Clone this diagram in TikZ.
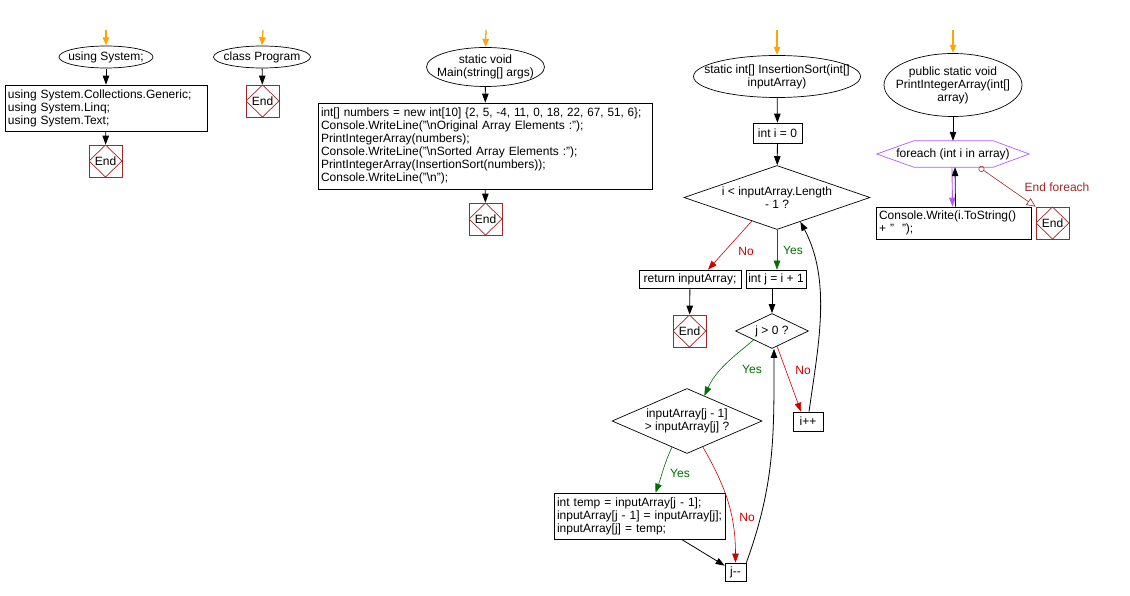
\documentclass[tikz,border=0pt]{standalone}
\usepackage{graphicx}
\usepackage{fontspec}
\setmainfont{Liberation Sans}
\usetikzlibrary{shapes.geometric,arrows.meta,calc}
\definecolor{orng}{RGB}{255,165,0}
\definecolor{endred}{RGB}{160,40,40}
\definecolor{nored}{RGB}{204,0,0}
\definecolor{yesgreen}{RGB}{0,110,0}
\definecolor{purp}{RGB}{180,90,255}
\begin{document}
\begin{tikzpicture}[x=1pt,y=-1pt,font=\fontsize{12}{13}\selectfont,
  ell/.style={draw=none,inner sep=0pt,align=center,
    path picture={\draw[line width=0.7pt] let \p1=(path picture bounding box.north east), \p2=(path picture bounding box.center) in (\p2) ellipse [x radius=\x1-\x2-0.5pt, y radius=\y1-\y2-0.5pt];}},
  pbox/.style={draw,line width=0.7pt,inner sep=3pt,align=left},
  sbox/.style={draw,line width=0.7pt,inner sep=1pt,align=center},
  dia/.style={diamond,draw,line width=0.7pt,inner sep=0pt,align=center},
  endbox/.style={draw=endred,line width=0.7pt,minimum width=33,minimum height=32,inner sep=0pt,
    path picture={\draw[endred,line width=0.7pt] (path picture bounding box.north) -- (path picture bounding box.east) -- (path picture bounding box.south) -- (path picture bounding box.west) -- cycle;}},
  arr/.style={line width=0.8pt,-{Triangle[length=9pt,width=6.5pt]}},
  oarr/.style={draw=orng,line width=1.3pt,-{Triangle[length=8pt,width=6.5pt]}},
  rarr/.style={draw=nored,line width=0.6pt,-{Triangle[length=9pt,width=6.5pt]}},
  garr/.style={draw=yesgreen,line width=0.6pt,-{Triangle[length=9pt,width=6.5pt]}},
  parr/.style={draw=purp,line width=0.9pt,-{Triangle[length=9pt,width=6.5pt]}},
  efarr/.style={draw=endred,line width=0.6pt,{Circle[open,length=6pt,width=6pt]}-{Triangle[open,length=9pt,width=8pt]}},
]
\useasboundingbox (0,0) rectangle (1130,596);
\fill[white] (0,0) rectangle (1130,596);

% start coordinates
\coordinate (s1) at (106,30);
\coordinate (s2) at (263,30);
\coordinate (s3) at (486,30);
\coordinate (s4) at (777,30);
\coordinate (s5) at (953,30);

% column 1
\node[ell,minimum width=95,minimum height=23] (u1) at (106,57) {using System;};
\node[pbox,text width=196,minimum height=46] (b1) at (106,108) {\mbox{using System.Collections.Generic;}\\\mbox{using System.Linq;}\\\mbox{using System.Text;}};
\node[endbox] (e1) at (105.5,161) {End};

% column 2
\node[ell,minimum width=98,minimum height=23] (u2) at (262,57) {class Program};
\node[endbox] (e2) at (262.5,101) {End};

% column 3
\node[ell,minimum width=119,minimum height=40] (u3) at (485.5,67) {static void\\Main(string[] args)};
\node[pbox,text width=328,minimum height=86] (b3) at (485,146) {\mbox{\scalebox{0.976}[1]{int[] numbers = new int[10] \{2, 5, -4, 11, 0, 18, 22, 67, 51, 6\};}}\\\mbox{Console.WriteLine("\textbackslash nOriginal Array Elements :");}\\\mbox{PrintIntegerArray(numbers);}\\\mbox{Console.WriteLine("\textbackslash nSorted Array Elements :");}\\\mbox{PrintIntegerArray(InsertionSort(numbers));}\\\mbox{Console.WriteLine("\textbackslash n");}};
\node[endbox] (e3) at (485.5,219) {End};

% column 4
\node[ell,minimum width=168,minimum height=43] (u4) at (777,76.5) {static int[] InsertionSort(int[]\\inputArray)};
\node[sbox,minimum width=49,minimum height=20] (i0) at (777.5,133) {int i = 0};
\node[dia,minimum width=186,minimum height=64,aspect=2.9] (d1) at (777,197.5) {i < inputArray.Length\\- 1 ?};
\node[sbox,minimum width=102,minimum height=18] (ret) at (690,279) {return inputArray;};
\node[sbox,minimum width=60,minimum height=18] (ij) at (776,279) {int j = i + 1};
\node[endbox] (e4) at (689.5,331) {End};
\node[dia,minimum width=73,minimum height=35,aspect=2] (d3) at (772,331) {j > 0 ?};
\node[dia,minimum width=150,minimum height=65,aspect=2.3] (d2) at (687,421) {inputArray[j - 1]\\> inputArray[j] ?};
\node[sbox,minimum width=30,minimum height=19] (ipp) at (808,421.5) {i++};
\node[pbox,text width=165,minimum height=46] (tmp) at (639.5,516) {\mbox{int temp = inputArray[j - 1];}\\\mbox{inputArray[j - 1] = inputArray[j];}\\\mbox{inputArray[j] = temp;}};
\node[sbox,minimum width=21,minimum height=18] (jmm) at (735.5,572) {j-{}-};

\node[text=nored] (n1) at (746,251) {No};
\node[text=yesgreen] (y1) at (793,250) {Yes};
\node[text=yesgreen] (y2) at (752,369) {Yes};
\node[text=nored] (n2) at (803,370) {No};
\node[text=yesgreen] (y3) at (680,473) {Yes};
\node[text=nored] (n3) at (747,517) {No};

% column 5
\node[ell,minimum width=139,minimum height=64] (u5) at (953,85) {public static void\\PrintIntegerArray(int[]\\array)};
\node[inner sep=0pt,minimum width=152,minimum height=26] (hex) at (953,154) {foreach (int i in array)};
\draw[purp,line width=0.7pt] (hex.west) -- ([xshift=37pt]hex.north west) -- ([xshift=-36pt]hex.north east) -- (hex.east) -- ([xshift=-36pt]hex.south east) -- ([xshift=37pt]hex.south west) -- cycle;
\node[pbox,text width=149,minimum height=32] (con) at (953.5,223) {\mbox{Console.Write(i.ToString()}\\\mbox{+ "\ \ ");}};
\node[endbox] (e5) at (1052.5,223) {End};
\node[text=endred] (efl) at (1057,187) {End foreach};

% connectors
\draw[oarr] (s1) -- (u1.north);
\draw[oarr] (s2) -- (u2.north);
\draw[oarr] (s3) -- (u3.north);
\draw[oarr] (s4) -- (u4.north);
\draw[oarr] (s5) -- (u5.north);

\draw[arr] (u1) -- (b1);
\draw[arr] (b1) -- (e1);
\draw[arr] (u2) -- (e2);
\draw[arr] (u3) -- (b3);
\draw[arr] (b3) -- (e3);
\draw[arr] (u4) -- (i0);
\draw[arr] (i0) -- (d1);
\draw[rarr] ($(d1.west)!0.73!(d1.south)$) -- ([xshift=18pt]ret.north);
\draw[garr] (d1.south) -- (d1.south |- ij.north);
\draw[arr] (ret) -- (e4);
\draw[arr] (ij.south -| d3.north) -- (d3.north);
\draw[garr] ($(d3.west)!0.5!(d3.south)$) to[out=-140,in=65] ($(d2.north)!0.23!(d2.east)$);
\draw[rarr] ($(d3.south)!0.14!(d3.east)$) -- ([xshift=-7pt]ipp.north);
\draw[arr] ([xshift=1pt]ipp.north) to[out=82,in=-62,looseness=0.9] ($(d1.south)!0.25!(d1.east)$);
\draw[garr] ($(d2.west)!0.8!(d2.south)$) to[out=-115,in=70] ([xshift=16pt]tmp.north);
\draw[rarr] ($(d2.south)!0.21!(d2.east)$) to[out=-60,in=90] (jmm.north);
\draw[arr] ([xshift=42pt]tmp.south) -- ([yshift=-3pt]jmm.north west);
\draw[arr] (jmm.north east) to[out=70,in=-90] ([xshift=2pt]d3.south);

\draw[arr] (u5) -- (hex.north);
\draw[parr] ([xshift=-1pt]hex.south) -- ([xshift=-1pt]con.north);
\draw[arr] ([xshift=2pt]con.north) -- ([xshift=2pt]hex.south);
\draw[efarr] ([xshift=26pt]hex.south) -- (e5.north west);
\end{tikzpicture}
\end{document}
